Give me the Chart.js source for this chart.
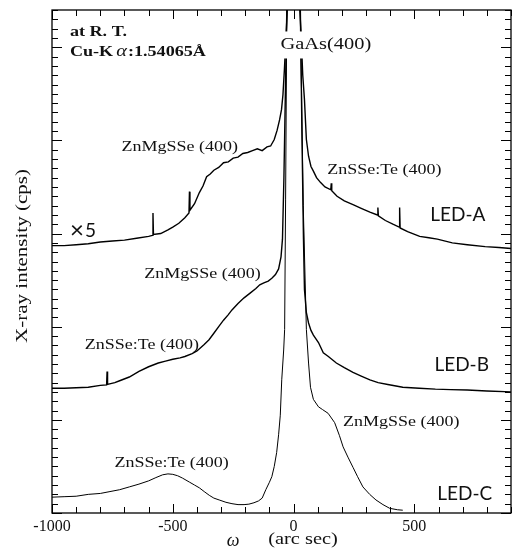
<!DOCTYPE html>
<html>
<head>
<meta charset="utf-8">
<script src="https://cdn.jsdelivr.net/npm/chart.js@4.4.0/dist/chart.umd.min.js"></script>
<style>
  body { margin: 0; background: #fff; }
  canvas { display: block; }
</style>
</head>
<body>
<canvas id="xrd" width="515" height="550"></canvas>
<script>
// Rocking curves, omega in arc sec, intensity in offset units
const ledAOmega = [-1000, -950, -900, -850, -800, -750, -700, -650, -600, -584, -582, -580, -550, -520, -500, -475, -450, -433, -431, -429, -410, -390, -375, -360, -345, -330, -310, -290, -270, -250, -230, -210, -190, -170, -150, -130, -110, -95, -80, -68, -58, -50, -44, -38, -32, -26, -18, 0, 18, 26, 32, 38, 45, 53, 62, 72, 82, 95, 111, 130, 154, 156, 158, 180, 210, 246, 280, 316, 347, 349, 351, 380, 411, 437, 439, 441, 472, 522, 560, 595, 657, 719, 793, 850, 900];
const ledAInt = [2.87, 2.87, 2.88, 2.89, 2.91, 2.92, 2.93, 2.95, 2.97, 2.98, 3.22, 2.99, 3.00, 3.04, 3.07, 3.11, 3.17, 3.22, 3.45, 3.25, 3.32, 3.44, 3.51, 3.61, 3.64, 3.68, 3.71, 3.76, 3.77, 3.81, 3.82, 3.86, 3.87, 3.89, 3.91, 3.89, 3.93, 3.94, 4.01, 4.11, 4.22, 4.33, 4.49, 4.76, 5.08, 5.40, 7.1, 9.0, 7.1, 5.40, 5.08, 4.70, 4.44, 4.01, 3.83, 3.72, 3.67, 3.60, 3.55, 3.50, 3.47, 3.54, 3.46, 3.40, 3.35, 3.31, 3.27, 3.23, 3.20, 3.28, 3.19, 3.14, 3.10, 3.07, 3.28, 3.06, 3.02, 2.97, 2.955, 2.94, 2.90, 2.88, 2.86, 2.85, 2.84];

const ledBOmega = [-1000, -950, -900, -850, -800, -774, -772, -770, -740, -720, -680, -640, -600, -560, -530, -500, -470, -450, -420, -400, -370, -350, -330, -310, -290, -270, -255, -230, -205, -180, -156, -140, -123, -105, -90, -75, -62, -52, -46, -40, -34, -28, -18, 0, 18, 28, 35, 41, 45, 53, 62, 72, 82, 103, 123, 144, 177, 210, 246, 280, 316, 350, 390, 452, 520, 587, 650, 719, 800, 900];
const ledBInt = [1.34, 1.34, 1.345, 1.35, 1.37, 1.375, 1.52, 1.38, 1.40, 1.42, 1.46, 1.52, 1.57, 1.61, 1.63, 1.65, 1.665, 1.68, 1.71, 1.74, 1.81, 1.86, 1.93, 2.00, 2.07, 2.13, 2.18, 2.25, 2.31, 2.36, 2.41, 2.45, 2.47, 2.49, 2.52, 2.56, 2.62, 2.75, 2.94, 3.6, 4.5, 5.4, 7.0, 8.0, 7.0, 5.4, 4.0, 2.94, 2.40, 2.15, 2.04, 1.96, 1.91, 1.83, 1.72, 1.68, 1.61, 1.56, 1.51, 1.47, 1.43, 1.40, 1.38, 1.35, 1.34, 1.33, 1.325, 1.32, 1.31, 1.30];

const ledCOmega = [-1000, -950, -900, -850, -800, -760, -720, -680, -640, -600, -570, -542, -520, -500, -480, -460, -430, -410, -390, -370, -349, -330, -308, -280, -255, -230, -205, -185, -164, -145, -130, -115, -100, -90, -80, -70, -62, -55, -49, -41, -37, -33, -28, -18, 0, 18, 28, 40, 53, 62, 70, 82, 103, 120, 143, 170, 190, 205, 225, 246, 265, 287, 315, 341, 370, 398, 430, 452];
const ledCInt = [0.17, 0.175, 0.18, 0.20, 0.21, 0.23, 0.25, 0.28, 0.31, 0.345, 0.38, 0.41, 0.42, 0.415, 0.40, 0.375, 0.33, 0.30, 0.27, 0.23, 0.19, 0.16, 0.14, 0.115, 0.10, 0.09, 0.09, 0.095, 0.11, 0.13, 0.16, 0.25, 0.33, 0.39, 0.50, 0.65, 0.84, 1.05, 1.43, 1.75, 1.97, 3.37, 5.4, 7.0, 8.0, 7.0, 5.4, 3.3, 1.97, 1.61, 1.35, 1.22, 1.14, 1.11, 1.07, 0.97, 0.83, 0.71, 0.60, 0.49, 0.39, 0.28, 0.20, 0.14, 0.09, 0.05, 0.035, 0.03];

const xTickLabels = [-1000, -500, 0, 500];
const xMin = -1000, xMax = 900, xMinorStep = 100;
const yMin = 0, yMax = 5.4, yMinorStep = 0.1;

// text placed in data coordinates (left edge, vertical centre)
const serif = "'Liberation Serif', 'Times New Roman', serif";
const sans = "Lato, 'Liberation Sans', sans-serif";
const notes = [
    { t: 'ZnMgSSe (400)', x: -712, y: 3.93, font: '15px ' + serif, sx: 1.2 },
    { t: 'ZnSSe:Te (400)', x: 139, y: 3.68, font: '15px ' + serif, sx: 1.2 },
    { t: 'LED-A', x: 566, y: 3.20, font: '19px ' + sans, sx: 1 },
    { t: '\u00d7', x: -926, y: 3.03, font: '24px ' + sans, sx: 1 },
    { t: '5', x: -863, y: 3.03, font: '19px ' + sans, sx: 1 },
    { t: 'ZnMgSSe (400)', x: -618, y: 2.56, font: '15px ' + serif, sx: 1.2 },
    { t: 'ZnSSe:Te (400)', x: -864, y: 1.80, font: '15px ' + serif, sx: 1.2 },
    { t: 'LED-B', x: 583, y: 1.59, font: '19px ' + sans, sx: 1 },
    { t: 'ZnSSe:Te (400)', x: -741, y: 0.54, font: '15px ' + serif, sx: 1.2 },
    { t: 'ZnMgSSe (400)', x: 205, y: 0.98, font: '15px ' + serif, sx: 1.2 },
    { t: 'LED-C', x: 595, y: 0.21, font: '19px ' + sans, sx: 1 },
    { t: 'at R. T.', x: -926, y: 5.16, font: 'bold 14.5px ' + serif, sx: 1.25 }
];

function pts(xs, ys) {
    return xs.map((x, i) => ({ x: x, y: ys[i] }));
}

// draws horizontally stretched text, returns its drawn width
function drawText(ctx, str, px, py, font, sx, align) {
    ctx.save();
    ctx.font = font;
    ctx.textBaseline = 'middle';
    ctx.textAlign = align || 'left';
    const w = ctx.measureText(str).width * sx;
    ctx.translate(px, py);
    ctx.scale(sx, 1);
    ctx.fillText(str, 0, 0);
    ctx.restore();
    return w;
}

// inward ticks on all four sides, plus the frame
const frameTicks = {
    id: 'frameTicks',
    afterDatasetsDraw(chart) {
        const { ctx, chartArea: { left, right, top, bottom }, scales: { x, y } } = chart;
        ctx.save();
        ctx.strokeStyle = '#000';
        ctx.lineWidth = 1.3;
        ctx.strokeRect(left, top, right - left, bottom - top);
        ctx.lineWidth = 1;
        ctx.beginPath();
        for (let v = xMin; v <= xMax; v += xMinorStep) {
            const px = Math.round(x.getPixelForValue(v)) + 0.5;
            const len = v % 500 === 0 ? 9 : 6;
            ctx.moveTo(px, bottom); ctx.lineTo(px, bottom - len);
            ctx.moveTo(px, top); ctx.lineTo(px, top + len);
        }
        const n = Math.round((yMax - yMin) / yMinorStep);
        for (let i = 0; i <= n; i++) {
            const py = Math.round(y.getPixelForValue(yMin + i * yMinorStep)) + 0.5;
            const len = i % 10 === 0 ? 10 : 6;
            ctx.moveTo(left, py); ctx.lineTo(left + len, py);
            ctx.moveTo(right, py); ctx.lineTo(right - len, py);
        }
        ctx.stroke();
        ctx.restore();
    }
};

const labels = {
    id: 'labels',
    afterDraw(chart) {
        const { ctx, scales: { x, y } } = chart;
        ctx.save();
        ctx.fillStyle = '#111';
        notes.forEach(n => drawText(ctx, n.t, x.getPixelForValue(n.x), y.getPixelForValue(n.y), n.font, n.sx));

        // Cu-K alpha line, alpha in italic
        let cx = x.getPixelForValue(-926);
        const cy = y.getPixelForValue(4.95);
        cx += drawText(ctx, 'Cu-K', cx, cy, 'bold 14.5px ' + serif, 1.25) + 3;
        cx += drawText(ctx, '\u03b1', cx, cy, 'italic 17px ' + serif, 1.2) + 1;
        drawText(ctx, ':1.54065\u00c5', cx, cy, 'bold 14.5px ' + serif, 1.25);

        // substrate peak label sits on a white box over the clipped peaks
        const gx = x.getPixelForValue(-54), gy = y.getPixelForValue(5.03);
        ctx.fillStyle = '#fff';
        ctx.fillRect(gx - 2, gy - 13, 95, 27);
        ctx.fillStyle = '#111';
        drawText(ctx, 'GaAs(400)', gx, gy, '17px ' + serif, 1.2);

        // axis titles
        ctx.save();
        ctx.translate(22, 256);
        ctx.rotate(-Math.PI / 2);
        drawText(ctx, 'X-ray intensity (cps)', 0, 0, '17.5px ' + serif, 1.2, 'center');
        ctx.restore();
        drawText(ctx, '\u03c9', 233, 541, 'italic 18px ' + serif, 1, 'center');
        drawText(ctx, '(arc sec)', 303, 540, '17px ' + serif, 1.2, 'center');
        ctx.restore();
    }
};

const lineStyle = { borderColor: '#000', borderWidth: 1.4, pointRadius: 0, tension: 0, fill: false };

new Chart(document.getElementById('xrd'), {
    type: 'line',
    data: {
        datasets: [
            Object.assign({ label: 'LED-A', data: pts(ledAOmega, ledAInt) }, lineStyle),
            Object.assign({ label: 'LED-B', data: pts(ledBOmega, ledBInt) }, lineStyle),
            Object.assign({ label: 'LED-C', data: pts(ledCOmega, ledCInt) }, lineStyle, { borderWidth: 1 })
        ]
    },
    options: {
        responsive: false,
        animation: false,
        layout: { padding: { top: 10, left: 52, right: 1, bottom: 0 } },
        plugins: { legend: { display: false }, tooltip: { enabled: false } },
        scales: {
            x: {
                type: 'linear',
                min: xMin,
                max: xMax,
                grid: { display: false, drawTicks: false },
                border: { display: false },
                afterFit: s => { s.height = 37; },
                ticks: {
                    stepSize: xMinorStep,
                    autoSkip: false,
                    maxRotation: 0,
                    padding: 4,
                    color: '#111',
                    font: { family: serif, size: 16 },
                    callback: v => xTickLabels.includes(v) ? String(v) : ''
                }
            },
            y: {
                type: 'linear',
                min: yMin,
                max: yMax,
                display: false
            }
        }
    },
    plugins: [frameTicks, labels]
});
</script>
</body>
</html>
